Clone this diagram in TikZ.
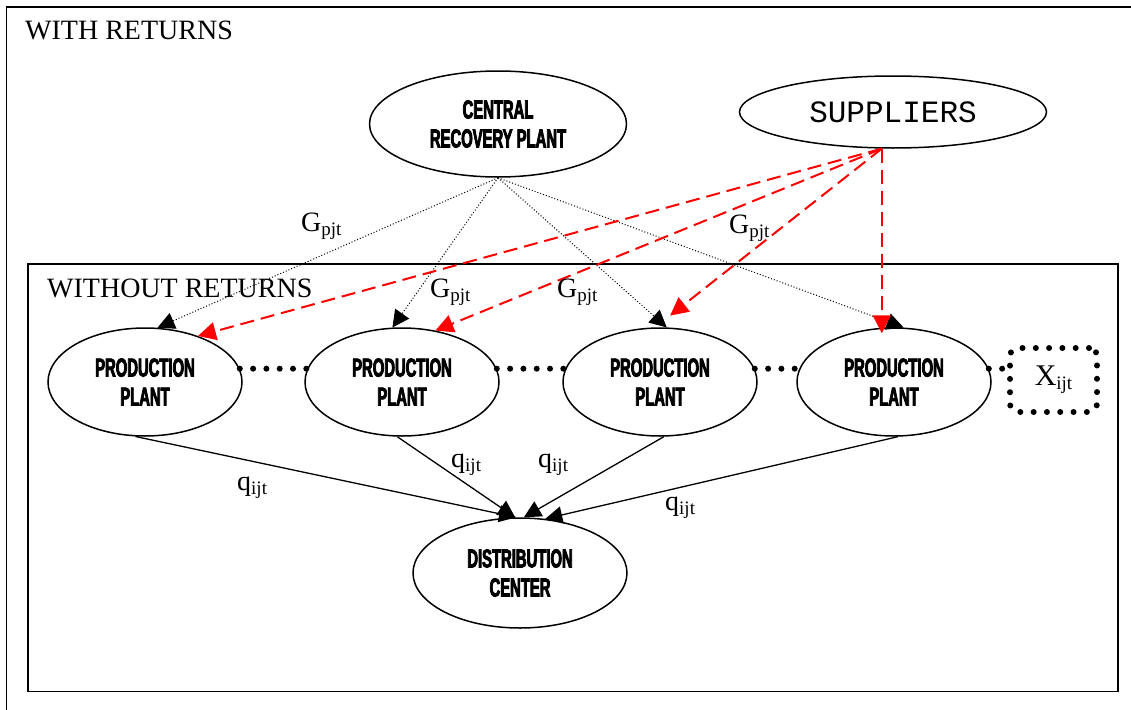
\documentclass[tikz,border=0pt]{standalone}
\usepackage{fontspec}
\setmainfont{Liberation Serif}
\newfontfamily\typefont{Liberation Mono}
\newfontfamily\heavyfont[FakeStretch=0.57,FakeBold=3]{Liberation Sans}
\usetikzlibrary{shapes.geometric,arrows.meta}
% lowered, smaller index letters
\newcommand\lowsub[1]{\raisebox{-4pt}{\fontsize{19}{19}\selectfont #1}}

\tikzset{
  oval/.style={ellipse, draw, line width=1.5pt, inner sep=0pt, align=center,
    font=\heavyfont\bfseries\fontsize{26}{29}\selectfont},
  plantoval/.style={oval, minimum width=194pt, minimum height=108pt},
  frame/.style={draw, line width=1.4pt},
  lbl/.style={anchor=base west, inner sep=0pt, font=\fontsize{28}{30}\selectfont},
  recovlink/.style={black, line width=1pt, dash pattern=on 1pt off 2pt,
    -{Triangle[length=17pt,width=17pt]}},
  supplink/.style={red, line width=2pt, dash pattern=on 14pt off 7pt,
    -{Triangle[length=18pt,width=18pt]}},
  flow/.style={black, line width=1.3pt, -{Triangle[length=17pt,width=17pt]}},
  chain/.style={black, line width=6pt, line cap=round, dash pattern=on 0pt off 13.3pt}
}

\begin{document}
\begin{tikzpicture}[x=1pt,y=-1pt]
  \useasboundingbox (0,0) rectangle (1131,709);
  \clip (0,0) rectangle (1131,709);

  % outer and inner frames
  \draw[frame] (6.5,7) rectangle (1145,725);
  \draw[frame] (28,264) rectangle (1118,691.5);
  \node[lbl] (withret) at (25,40) {WITH RETURNS};
  \node[lbl] (withoutret) at (47,297) {WITHOUT RETURNS};

  % nodes
  \node[oval, minimum width=257pt, minimum height=106pt] (crp) at (498,124)
    {CENTRAL\\RECOVERY PLANT};
  \node[ellipse, draw, line width=1.5pt, inner sep=0pt, minimum width=307pt,
    minimum height=72pt, font=\typefont\fontsize{31}{33}\selectfont] (sup) at (893,112)
    {SUPPLIERS};
  \node[plantoval] (p1) at (145,382) {PRODUCTION\\PLANT};
  \node[plantoval] (p2) at (402,382) {PRODUCTION\\PLANT};
  \node[plantoval] (p3) at (660,382) {PRODUCTION\\PLANT};
  \node[plantoval] (p4) at (894,382) {PRODUCTION\\PLANT};
  \node[oval, minimum width=214pt, minimum height=110pt] (dc) at (520,573)
    {DISTRIBUTION\\CENTER};
  \node[draw, chain, rounded corners=8pt, minimum width=87pt, minimum height=64pt,
    inner sep=0pt, font=\fontsize{30}{32}\selectfont] (xb) at (1053.5,380)
    {X\lowsub{ijt}};

  % chain of plants
  \draw[chain] (p1.8) -- (p2.172);
  \draw[chain] (p2.8) -- (p3.172);
  \draw[chain] (p3.8) -- (p4.172);
  \draw[chain] (p4.8) -- (p4.8 -| xb.west);

  % flows from the recovery plant
  \draw[recovlink] (crp.south) -- (p1.77);
  \draw[recovlink] (crp.south) -- (p2.100);
  \draw[recovlink] (crp.south) -- (p3.83);
  \draw[recovlink] (crp.south) -- (p4.80);

  % flows from the suppliers
  \draw[supplink] (sup.253) -- (p1.41);
  \draw[supplink] (sup.253) -- (p2.57);
  \draw[supplink, shorten >=19pt] (sup.253) -- (p3.95);
  \draw[supplink, shorten >=-6pt] (sup.253) -- (sup.253 |- p4.north);

  % flows to the distribution center
  \draw[flow] (p1.260) -- (dc.94);
  \draw[flow] (p2.265) -- (dc.95);
  \draw[flow] (p3.274) -- (dc.86);
  \draw[flow] (p4.274) -- (dc.65);

  % edge labels
  \node[lbl] (g1) at (301,231) {G\lowsub{pjt}};
  \node[lbl] (g2) at (430,297) {G\lowsub{pjt}};
  \node[lbl] (g3) at (557,297) {G\lowsub{pjt}};
  \node[lbl] (g4) at (729,233) {G\lowsub{pjt}};
  \node[lbl] (q1) at (237,490) {q\lowsub{ijt}};
  \node[lbl] (q2) at (451,467) {q\lowsub{ijt}};
  \node[lbl] (q3) at (538,467) {q\lowsub{ijt}};
  \node[lbl] (q4) at (665,510) {q\lowsub{ijt}};
\end{tikzpicture}
\end{document}
